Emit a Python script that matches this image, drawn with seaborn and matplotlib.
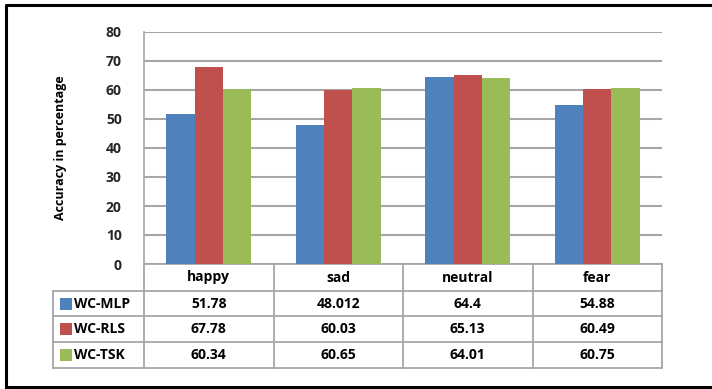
import matplotlib
matplotlib.use("Agg")
import matplotlib.pyplot as plt
import seaborn as sns
import pandas as pd

categories = ["happy", "sad", "neutral", "fear"]
series_names = ["WC-MLP", "WC-RLS", "WC-TSK"]
wc_mlp = [51.78, 48.012, 64.4, 54.88]
wc_rls = [67.78, 60.03, 65.13, 60.49]
wc_tsk = [60.34, 60.65, 64.01, 60.75]
table_text = [["51.78", "48.012", "64.4", "54.88"],
              ["67.78", "60.03", "65.13", "60.49"],
              ["60.34", "60.65", "64.01", "60.75"]]
y_ticks = [0, 10, 20, 30, 40, 50, 60, 70, 80]
colors = ["#4F81BD", "#C0504D", "#9BBB59"]

sns.set_theme(style="white")
plt.rcParams['font.family'] = ['Open Sans', 'DejaVu Sans']
plt.rcParams['font.weight'] = 'bold'

df = pd.DataFrame({
    "category": categories * 3,
    "series": [s for s in series_names for _ in categories],
    "value": wc_mlp + wc_rls + wc_tsk,
})

W, H = 712, 389
fig = plt.figure(figsize=(W / 100, H / 100), dpi=100)
fig.patch.set_facecolor("white")

ov = fig.add_axes([0, 0, 1, 1])
ov.set_xlim(0, W)
ov.set_ylim(H, 0)
ov.axis("off")

x0, x1 = 144, 662
y_top, y_zero = 32, 264
ax = fig.add_axes([x0 / W, (H - y_zero) / H, (x1 - x0) / W, (y_zero - y_top) / H])

sns.barplot(data=df, x="category", y="value", hue="series", palette=colors,
            order=categories, hue_order=series_names, width=0.66,
            saturation=1, edgecolor="none", legend=False, ax=ax)
ax.set_ylim(0, 80)
ax.set_xlim(-0.5, 3.5)
ax.set_yticks(y_ticks)
ax.set_yticklabels([str(t) for t in y_ticks], fontsize=10, fontweight="bold", color="#262626")
ax.set_xticks([])
ax.set_xlabel("")
ax.set_ylabel("Accuracy in percentage", fontsize=9, fontweight="bold", color="black")
ax.yaxis.set_label_coords(-0.148, 0.5)
ax.tick_params(axis="y", length=0, pad=16)
ax.grid(axis="y", color="#A6A6A6", linewidth=1.5)
ax.set_axisbelow(True)
for s in ["top", "right", "bottom"]:
    ax.spines[s].set_visible(False)
ax.spines["left"].set_color("#A6A6A6")
ax.spines["left"].set_linewidth(1.2)
ax.set_facecolor("none")

ov.plot([6, 6, 716], [387, 5, 5], color="black", lw=2.2, solid_capstyle="projecting")
ov.plot([6, 716], [387, 387], color="black", lw=2.2)

gc = "#A6A6A6"
col_edges = [x0 + i * (x1 - x0) / 4 for i in range(5)]
row_edges = [264, 291, 316, 342, 368]
label_left = 53
ov.plot([x0, x1], [row_edges[0], row_edges[0]], color=gc, lw=1.3)
for yy in row_edges[1:]:
    ov.plot([label_left, x1], [yy, yy], color=gc, lw=1.3)
for xx in col_edges:
    ov.plot([xx, xx], [row_edges[0], row_edges[-1]], color=gc, lw=1.3)
ov.plot([label_left, label_left], [row_edges[1], row_edges[-1]], color=gc, lw=1.3)

for i, c in enumerate(categories):
    cx = (col_edges[i] + col_edges[i + 1]) / 2
    ov.text(cx, (row_edges[0] + row_edges[1]) / 2, c, ha="center", va="center",
            fontsize=10, fontweight="bold", color="black")
for r in range(3):
    cy = (row_edges[r + 1] + row_edges[r + 2]) / 2
    ov.add_patch(plt.Rectangle((60, cy - 6), 12, 12, color=colors[r], lw=0))
    ov.text(74, cy, series_names[r], ha="left", va="center", fontsize=10,
            fontweight="bold", color="black")
    for i in range(4):
        cx = (col_edges[i] + col_edges[i + 1]) / 2
        ov.text(cx, cy, table_text[r][i], ha="center", va="center", fontsize=10,
                fontweight="bold", color="black")

fig.savefig("out.png", dpi=100, facecolor="white")
